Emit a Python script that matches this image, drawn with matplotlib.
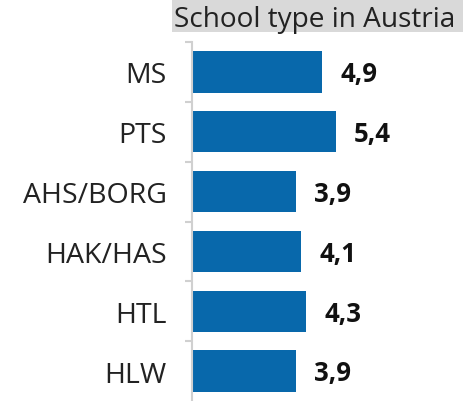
import matplotlib
matplotlib.use('Agg')
import matplotlib.pyplot as plt
from matplotlib.patches import Rectangle

schulen = ['MS', 'PTS', 'AHS/BORG', 'HAK/HAS', 'HTL', 'HLW']
werte = [4.9, 5.4, 3.9, 4.1, 4.3, 3.9]
etiketten = ['4,9', '5,4', '3,9', '4,1', '4,3', '3,9']
titel = 'School type in Austria'

plt.rcParams['font.family'] = ['Open Sans', 'DejaVu Sans']

fig = plt.figure(figsize=(4.64, 4.02), dpi=100)
ax = fig.add_axes([192 / 464, 0.0, 1 - 192 / 464, 1 - 43 / 402])

pos = list(range(len(schulen)))
ax.barh(pos, werte, height=0.69, color='#0868ab')

# wartosci obok slupkow
for p, w, e in zip(pos, werte, etiketten):
    ax.text(w + 0.68, p + 0.03, e, va='center', ha='left', fontsize=18.5,
            fontweight='bold', color='#111111')

ax.set_xlim(0, (464 - 192) / 26.6)
ax.set_ylim(5.5, -0.5)
ax.set_yticks(pos)
ax.set_yticklabels(schulen, fontsize=20.5, color='#222222')
ax.tick_params(axis='y', which='major', length=0, pad=18)
ax.set_yticks([p - 0.5 for p in pos], minor=True)
ax.tick_params(axis='y', which='minor', length=5, width=1.5, color='#d0d0d0')
ax.set_xticks([])

for s in ['top', 'right', 'bottom']:
    ax.spines[s].set_visible(False)
ax.spines['left'].set_color('#d0d0d0')
ax.spines['left'].set_linewidth(1.5)

# szare tlo tytulu
fig.patches.append(Rectangle((172 / 464, 1 - 33 / 402), 292 / 464, 33 / 402,
                             transform=fig.transFigure, facecolor='#d9d9d9',
                             edgecolor='none', zorder=0))
fig.text(174 / 464, 1 - 27 / 402, titel, fontsize=20.2, color='#222222',
         ha='left', va='baseline')

fig.savefig('out.png', dpi=100)
